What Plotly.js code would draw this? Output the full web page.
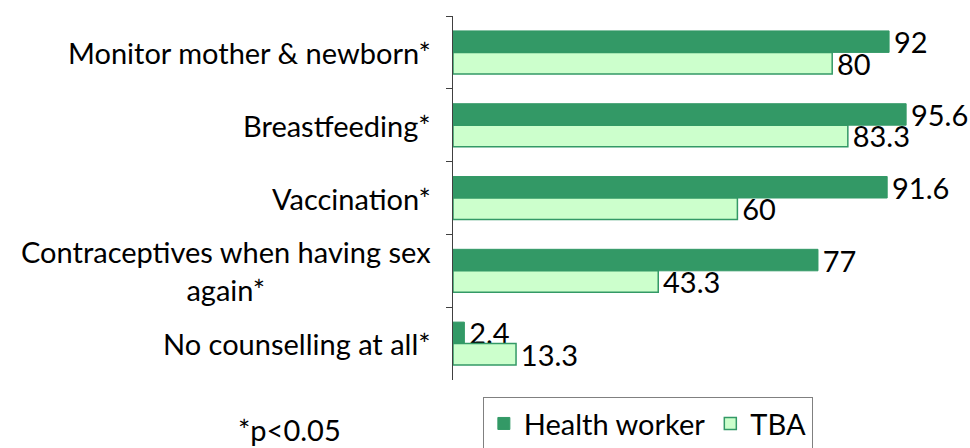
<!DOCTYPE html>
<html><head><meta charset="utf-8">
<script src="https://cdn.plot.ly/plotly-3.0.1.min.js"></script>
<style>body{margin:0;background:#fff}#c{width:970px;height:448px}</style>
</head><body><div id="c"></div>
<script>
const categories = ["Monitor mother & newborn*", "Breastfeeding*", "Vaccination*", "Contraceptives when having sex<br>again*", "No counselling at all*"];
const healthWorker = [92, 95.6, 91.6, 77, 2.4];
const tba = [80, 83.3, 60, 43.3, 13.3];
const seriesNames = ["Health worker", "TBA"];
const footnote = "*p<0.05";

const FONT = "Lato, 'Open Sans', sans-serif";
const FS = 29;
const dark = "#339966", light = "#ccffcc";

const traces = [
  {type:"bar", orientation:"h", name:seriesNames[0], y:categories, x:healthWorker,
   marker:{color:dark, line:{color:dark, width:1}},
   text:healthWorker.map(v => "\u200A" + v), textposition:"outside", cliponaxis:false, constraintext:"none",
   textfont:{family:FONT, size:FS, color:"#000"}},
  {type:"bar", orientation:"h", name:seriesNames[1], y:categories, x:tba,
   marker:{color:light, line:{color:dark, width:1.5}},
   text:tba.map(v => "\u200A" + v), textposition:"outside", cliponaxis:false, constraintext:"none",
   textfont:{family:FONT, size:FS, color:"#000"}}
];

const annotations = categories.map(c => ({
  xref:"paper", yref:"y", x:-0.043, y:c, xanchor:"right", yanchor:"middle",
  text:c, showarrow:false, align:"center",
  font:{family:FONT, size:FS, color:"#000"}
}));
annotations.push({xref:"paper", yref:"paper", x:-0.458, y:-0.137, xanchor:"left", yanchor:"middle",
  text:footnote, showarrow:false, font:{family:FONT, size:FS, color:"#000"}});

const layout = {
  width:970, height:448,
  margin:{l:453, r:43, t:16, b:68, autoexpand:false},
  paper_bgcolor:"#fff", plot_bgcolor:"#fff",
  barmode:"group", bargap:0.41, bargroupgap:0,
  showlegend:true,
  legend:{orientation:"h", x:0.063, y:-0.047, xanchor:"left", yanchor:"top",
    bordercolor:"#808080", borderwidth:1, font:{family:FONT, size:FS, color:"#000"},
    traceorder:"normal"},
  xaxis:{range:[0,100], visible:false, fixedrange:true},
  yaxis:{type:"category", autorange:"reversed", showticklabels:false,
    tickson:"boundaries", ticks:"outside", ticklen:6, tickcolor:"#404040",
    showline:true, linecolor:"#404040", linewidth:1, showgrid:false, zeroline:false},
  annotations:annotations
};
Plotly.newPlot("c", traces, layout, {displayModeBar:false, staticPlot:true});
</script></body></html>
